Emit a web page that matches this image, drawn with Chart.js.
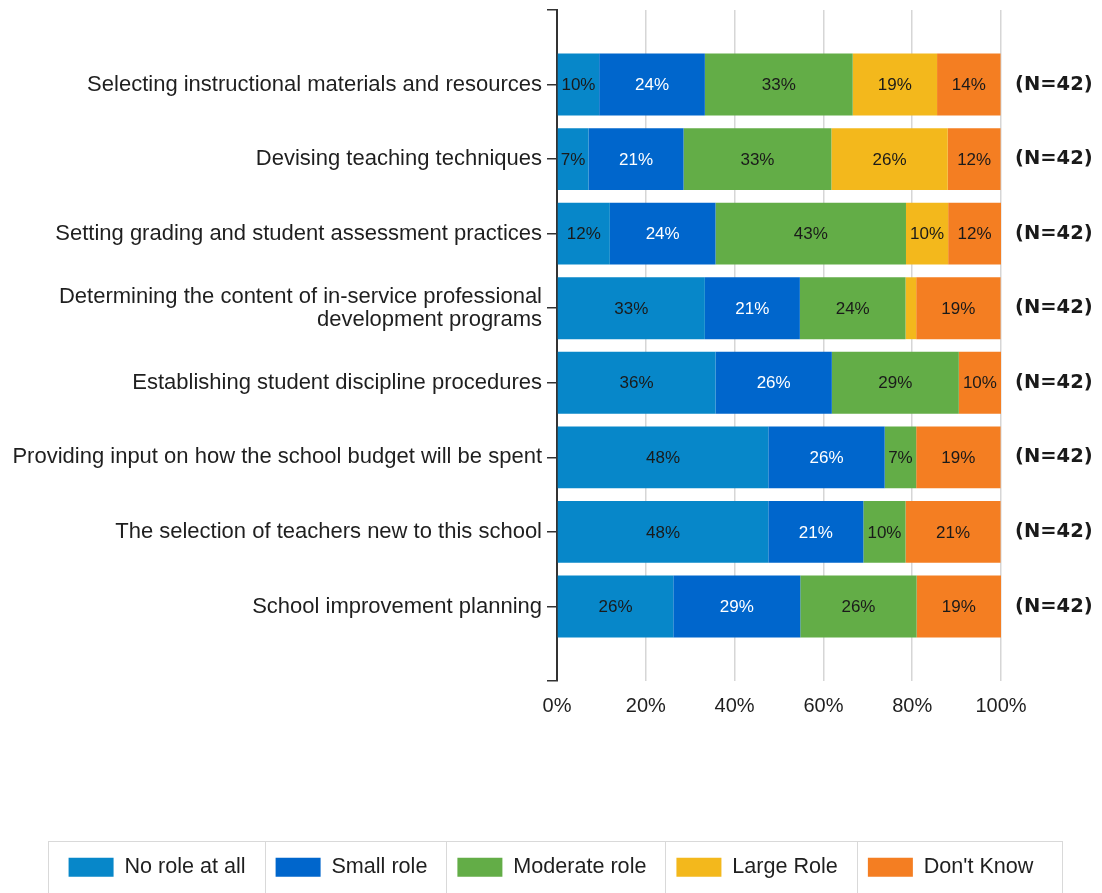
<!DOCTYPE html>
<html><head><meta charset="utf-8">
<script src="https://cdn.jsdelivr.net/npm/chart.js@4.4.1/dist/chart.umd.min.js"></script>
<style>html,body{margin:0;padding:0;background:#fff;overflow:hidden;}</style>
</head><body>
<canvas id="c" width="1102" height="893"></canvas>
<script>
// ---- data ----
const categories = [
  'Selecting instructional materials and resources',
  'Devising teaching techniques',
  'Setting grading and student assessment practices',
  ['Determining the content of in-service professional', 'development programs'],
  'Establishing student discipline procedures',
  'Providing input on how the school budget will be spent',
  'The selection of teachers new to this school',
  'School improvement planning'
];
const seriesNames = ['No role at all', 'Small role', 'Moderate role', 'Large Role', "Don't Know"];
const noRole       = [9.5, 7.1, 11.9, 33.3, 35.7, 47.6, 47.6, 26.2];
const smallRole    = [23.8, 21.4, 23.8, 21.4, 26.2, 26.2, 21.4, 28.6];
const moderateRole = [33.3, 33.3, 42.9, 23.8, 28.6, 7.1, 9.5, 26.2];
const largeRole    = [19.0, 26.2, 9.5, 2.4, 0, 0, 0, 0];
const dontKnow     = [14.3, 11.9, 11.9, 19.0, 9.5, 19.0, 21.4, 19.0];
const nCounts      = [42, 42, 42, 42, 42, 42, 42, 42];
const xTickValues  = [0, 20, 40, 60, 80, 100];

// ---- style ----
const colors = ['#0787c9', '#0066cc', '#63ad47', '#f3b81c', '#f47e22'];
const labelColors = ['#1a1a1a', '#ffffff', '#1a1a1a', '#1a1a1a', '#1a1a1a'];
const FONT = '"Liberation Sans", Arial, sans-serif';
const TEXT = '#1f1f1f';

const seriesValues = [noRole, smallRole, moderateRole, largeRole, dontKnow];
const datasets = seriesValues.map((vals, d) => ({
  label: seriesNames[d],
  data: vals.map((v, i) => ({ x: v, y: i + 1 })),
  backgroundColor: colors[d],
  borderWidth: 0,
  categoryPercentage: 1,
  barPercentage: 0.83
}));

const valueLabels = {
  id: 'valueLabels',
  afterDatasetsDraw(chart) {
    const ctx = chart.ctx;
    ctx.save();
    ctx.font = '17px ' + FONT;
    ctx.textAlign = 'center';
    ctx.textBaseline = 'middle';
    chart.data.datasets.forEach((ds, d) => {
      const meta = chart.getDatasetMeta(d);
      meta.data.forEach((el, i) => {
        const v = ds.data[i].x;
        if (v < 5) return;
        ctx.fillStyle = labelColors[d];
        ctx.fillText(Math.round(v) + '%', (el.x + el.base) / 2, el.y + 1);
      });
    });
    ctx.restore();
  }
};

const legendFrame = {
  id: 'legendFrame',
  afterDraw(chart) {
    const hb = chart.legend && chart.legend.legendHitBoxes;
    if (!hb || !hb.length) return;
    const ctx = chart.ctx;
    ctx.save();
    ctx.strokeStyle = '#d9d9d9';
    ctx.lineWidth = 1;
    const top = Math.round(hb[0].top - 15) + 0.5;
    const bottom = Math.round(hb[0].top + hb[0].height + 16) + 0.5;
    const last = hb[hb.length - 1];
    const left = Math.round(hb[0].left - 21) + 0.5;
    const right = Math.round(last.left + last.width + 29) + 0.5;
    ctx.strokeRect(left, top, right - left, bottom - top);
    for (let i = 1; i < hb.length; i++) {
      const x = Math.round(hb[i].left - 11) + 0.5;
      ctx.beginPath(); ctx.moveTo(x, top); ctx.lineTo(x, bottom); ctx.stroke();
    }
    ctx.restore();
  }
};

const PLOT_LEFT = 557, PLOT_RIGHT = 1001, PLOT_BOTTOM = 681;
const zeroPad = s => { s.paddingTop = 0; s.paddingBottom = 0; };

new Chart(document.getElementById('c'), {
  type: 'bar',
  data: { datasets },
  plugins: [valueLabels, legendFrame],
  options: {
    indexAxis: 'y',
    responsive: false,
    animation: false,
    devicePixelRatio: 1,
    layout: { padding: { top: 10, bottom: 5, left: 0, right: 0 } },
    plugins: {
      tooltip: { enabled: false },
      legend: {
        position: 'bottom',
        labels: {
          boxWidth: 45, boxHeight: 19, padding: 30,
          color: TEXT, font: { family: FONT, size: 21.6 }
        }
      }
    },
    scales: {
      x: {
        type: 'linear', stacked: true, min: 0, max: 100,
        afterBuildTicks: s => { s.ticks = xTickValues.map(v => ({ value: v })); },
        afterFit: s => { s.height = s.chart.height - PLOT_BOTTOM - s.chart.legend.height - 5; },
        grid: { color: '#d6d6d6', lineWidth: 1.5, drawTicks: false },
        border: { display: false },
        ticks: { padding: 13, color: TEXT, font: { family: FONT, size: 20 }, callback: v => v + '%' }
      },
      y: {
        type: 'linear', position: 'left', stacked: true, reverse: true, min: 0, max: 9, offset: false,
        afterBuildTicks: s => { s.ticks = Array.from({ length: 10 }, (_, k) => ({ value: k })); },
        afterFit: s => { s.width = PLOT_LEFT; zeroPad(s); },
        grid: { offset: false, drawOnChartArea: false, drawTicks: true, tickLength: 10, color: '#333333', lineWidth: 1.5 },
        border: { display: true, color: '#333333', width: 2 },
        ticks: {
          autoSkip: false, padding: 5, color: TEXT,
          font: { family: FONT, size: 22, lineHeight: 1.05 },
          callback: v => (v >= 1 && v <= categories.length) ? categories[v - 1] : ''
        }
      },
      y2: {
        type: 'linear', position: 'right', reverse: true, min: 0, max: 9, offset: false,
        afterBuildTicks: s => { s.ticks = Array.from({ length: 10 }, (_, k) => ({ value: k })); },
        afterFit: s => { s.width = 1102 - PLOT_RIGHT; zeroPad(s); },
        grid: { display: false, offset: false },
        border: { display: false },
        ticks: {
          autoSkip: false, padding: 6, color: '#1a1a1a',
          font: { family: '"DejaVu Sans", sans-serif', size: 19.5, weight: 'bold' },
          callback: v => (v >= 1 && v <= nCounts.length) ? '(N=' + nCounts[v - 1] + ')' : ''
        }
      }
    }
  }
});
</script>
</body></html>
